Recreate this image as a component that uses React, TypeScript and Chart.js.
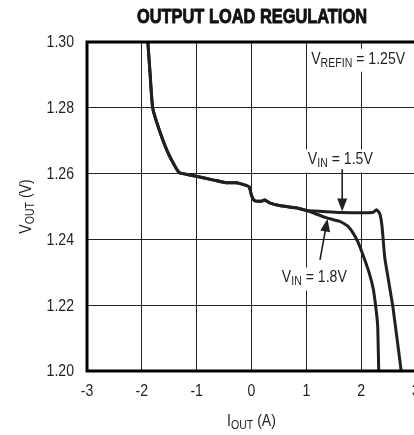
import React, { useEffect, useRef } from "react";
import { Chart, registerables } from "chart.js";

Chart.register(...registerables);

// ---- data ----
const xTickValues = [-3, -2, -1, 0, 1, 2, 3];
const yTickValues = [1.2, 1.22, 1.24, 1.26, 1.28, 1.3];
const xTickLabels = ["-3", "-2", "-1", "0", "1", "2", "3"];
const yTickLabels = ["1.20", "1.22", "1.24", "1.26", "1.28", "1.30"];

// shared part of both curves (I_OUT in A, V_OUT in V)
const commonX = [-1.895, -1.89, -1.85, -1.8, -1.68, -1.53, -1.38, -1.31, -1.25, -1.01, -0.71, -0.46, -0.28, -0.1, -0.04, 0.0, 0.05, 0.18, 0.24, 0.33, 0.51, 0.81, 1.0];
const commonY = [1.302, 1.3, 1.2905, 1.2798, 1.2732, 1.2666, 1.2618, 1.2602, 1.26, 1.2592, 1.2581, 1.2572, 1.2572, 1.2564, 1.2559, 1.2534, 1.2518, 1.2516, 1.252, 1.2511, 1.2503, 1.2496, 1.2488];

// V_IN = 1.5V branch
const vin15X = [1.3, 1.61, 2.21, 2.28, 2.34, 2.38, 2.43, 2.49, 2.58, 2.73, 2.745];
const vin15Y = [1.2485, 1.2482, 1.2482, 1.249, 1.2478, 1.244, 1.2345, 1.2284, 1.2193, 1.2, 1.1985];

// V_IN = 1.8V branch
const vin18X = [1.36, 1.61, 1.7, 1.76, 1.83, 1.93, 2.05, 2.15, 2.22, 2.27, 2.3, 2.31, 2.32, 2.32];
const vin18Y = [1.2466, 1.2455, 1.2447, 1.244, 1.2425, 1.2396, 1.2345, 1.2296, 1.225, 1.219, 1.214, 1.208, 1.2, 1.1985];

const FONT = "'Liberation Sans', Arial, sans-serif";
const INK = "#231f20";
const HS = 0.88; // horizontal condensing of text

type Part = { t: string; sub?: boolean };

const toPoints = (xs: number[], ys: number[]) => xs.map((x, i) => ({ x, y: ys[i] }));

function richWidth(ctx: CanvasRenderingContext2D, parts: Part[], size: number, subSize: number) {
  let w = 0;
  for (const p of parts) {
    ctx.font = `${p.sub ? subSize : size}px ${FONT}`;
    w += ctx.measureText(p.t).width;
  }
  return w * HS;
}

function drawRich(ctx: CanvasRenderingContext2D, parts: Part[], x: number, y: number, size: number, subSize: number) {
  ctx.save();
  ctx.translate(x, y);
  ctx.scale(HS, 1);
  let cx = 0;
  ctx.textAlign = "left";
  ctx.textBaseline = "alphabetic";
  for (const p of parts) {
    ctx.font = `${p.sub ? subSize : size}px ${FONT}`;
    ctx.fillText(p.t, cx, p.sub ? 3 : 0);
    cx += ctx.measureText(p.t).width;
  }
  ctx.restore();
}

function drawText(ctx: CanvasRenderingContext2D, text: string, x: number, y: number, size: number, align: CanvasTextAlign) {
  ctx.save();
  ctx.translate(x, y);
  ctx.scale(HS, 1);
  ctx.font = `${size}px ${FONT}`;
  ctx.textAlign = align;
  ctx.textBaseline = "middle";
  ctx.fillText(text, 0, 0);
  ctx.restore();
}

const labelRefin: Part[] = [{ t: "V" }, { t: "REFIN", sub: true }, { t: " = 1.25V" }];
const label15: Part[] = [{ t: "V" }, { t: "IN", sub: true }, { t: " = 1.5V" }];
const label18: Part[] = [{ t: "V" }, { t: "IN", sub: true }, { t: " = 1.8V" }];
const yTitle: Part[] = [{ t: "V" }, { t: "OUT", sub: true }, { t: " (V)" }];
const xTitle: Part[] = [{ t: "I" }, { t: "OUT", sub: true }, { t: " (A)" }];

function arrow(ctx: CanvasRenderingContext2D, x1: number, y1: number, x2: number, y2: number) {
  const ang = Math.atan2(y2 - y1, x2 - x1);
  const len = 13;
  const hw = 5;
  ctx.strokeStyle = INK;
  ctx.fillStyle = INK;
  ctx.lineWidth = 1.6;
  ctx.beginPath();
  ctx.moveTo(x1, y1);
  ctx.lineTo(x2 - Math.cos(ang) * len * 0.8, y2 - Math.sin(ang) * len * 0.8);
  ctx.stroke();
  const bx = x2 - Math.cos(ang) * len;
  const by = y2 - Math.sin(ang) * len;
  ctx.beginPath();
  ctx.moveTo(x2, y2);
  ctx.lineTo(bx + Math.sin(ang) * hw, by - Math.cos(ang) * hw);
  ctx.lineTo(bx - Math.sin(ang) * hw, by + Math.cos(ang) * hw);
  ctx.closePath();
  ctx.fill();
}

const decorPlugin = {
  id: "decor",
  afterDatasetsDraw(chart: any) {
    const ctx: CanvasRenderingContext2D = chart.ctx;
    const { left, right, top, bottom } = chart.chartArea;
    const xs = chart.scales.x;
    const ys = chart.scales.y;
    const px = (v: number) => xs.getPixelForValue(v);
    const py = (v: number) => ys.getPixelForValue(v);
    ctx.save();

    // labels with white backgrounds
    const labels: [Part[], number, number][] = [
      [labelRefin, 1.089, 1.2934],
      [label15, 1.027, 1.2628],
      [label18, 0.553, 1.2269],
    ];
    for (const [parts, dx, dy] of labels) {
      const x = px(dx);
      const y = py(dy);
      const w = richWidth(ctx, parts, 16, 12);
      ctx.fillStyle = "#fff";
      ctx.fillRect(x - 4, y - 15, w + 8, 23);
      ctx.fillStyle = INK;
      drawRich(ctx, parts, x, y, 16, 12);
    }

    // arrows
    arrow(ctx, px(1.654), py(1.2613), px(1.654), py(1.2485));
    arrow(ctx, px(1.249), py(1.2338), px(1.386), py(1.2463));

    // frame
    ctx.strokeStyle = "#000";
    ctx.lineWidth = 3;
    ctx.strokeRect(left, top, right - left, bottom - top);

    // tick labels (positions from the library's scales)
    ctx.fillStyle = INK;
    xTickValues.forEach((v, i) => drawText(ctx, xTickLabels[i], px(v), bottom + 21, 16, "center"));
    yTickValues.forEach((v, i) => drawText(ctx, yTickLabels[i], left - 13, py(v) + 1, 16, "right"));

    // title
    ctx.fillStyle = "#111";
    ctx.font = `bold 21px ${FONT}`;
    const title = "OUTPUT LOAD REGULATION";
    const tw = ctx.measureText(title).width;
    const target = 230;
    ctx.save();
    ctx.translate(252, 23);
    ctx.scale(target / tw, 1);
    ctx.textAlign = "center";
    ctx.textBaseline = "alphabetic";
    ctx.lineWidth = 0.9;
    ctx.strokeStyle = "#111";
    ctx.fillText(title, 0, 0);
    ctx.strokeText(title, 0, 0);
    ctx.restore();

    // axis titles
    ctx.fillStyle = INK;
    const xw = richWidth(ctx, xTitle, 16, 12);
    drawRich(ctx, xTitle, px(0) - xw / 2, 426, 16, 12);

    const yw = richWidth(ctx, yTitle, 16, 12);
    ctx.save();
    ctx.translate(31, (top + bottom) / 2);
    ctx.rotate(-Math.PI / 2);
    drawRich(ctx, yTitle, -yw / 2, 0, 16, 12);
    ctx.restore();

    ctx.restore();
  },
};

export default function App() {
  const ref = useRef<HTMLCanvasElement | null>(null);

  useEffect(() => {
    if (!ref.current) return;
    const lineStyle = {
      borderColor: INK,
      backgroundColor: INK,
      borderWidth: 3,
      pointRadius: 0,
      tension: 0.2,
      fill: false,
      borderJoinStyle: "round" as const,
      borderCapStyle: "round" as const,
    };
    const chart = new Chart(ref.current, {
      type: "line",
      data: {
        datasets: [
          { label: "VIN = 1.5V", data: toPoints([...commonX, ...vin15X], [...commonY, ...vin15Y]), ...lineStyle },
          { label: "VIN = 1.8V", data: toPoints([...commonX, ...vin18X], [...commonY, ...vin18Y]), ...lineStyle },
        ],
      },
      options: {
        animation: false,
        responsive: false,
        devicePixelRatio: 1,
        layout: { padding: { top: 42, left: 0, right: 24, bottom: 0 } },
        plugins: { legend: { display: false }, tooltip: { enabled: false }, title: { display: false } },
        scales: {
          x: {
            type: "linear",
            min: -3,
            max: 3,
            afterBuildTicks: (s: any) => {
              s.ticks = xTickValues.map((v) => ({ value: v }));
            },
            afterFit: (s: any) => {
              s.height = 64;
            },
            ticks: { display: false },
            grid: { color: "#222", lineWidth: 1, drawTicks: false },
            border: { display: false },
          },
          y: {
            type: "linear",
            min: 1.2,
            max: 1.3,
            afterBuildTicks: (s: any) => {
              s.ticks = yTickValues.map((v) => ({ value: v }));
            },
            afterFit: (s: any) => {
              s.width = 87;
            },
            ticks: { display: false },
            grid: { color: "#222", lineWidth: 1, drawTicks: false },
            border: { display: false },
          },
        },
      },
      plugins: [decorPlugin],
    });
    return () => chart.destroy();
  }, []);

  return (
    <div style={{ position: "fixed", left: 0, top: 0, width: 414, height: 435, overflow: "hidden", background: "#fff" }}>
      <canvas ref={ref} width={440} height={435} style={{ display: "block", width: 440, height: 435 }} />
    </div>
  );
}
